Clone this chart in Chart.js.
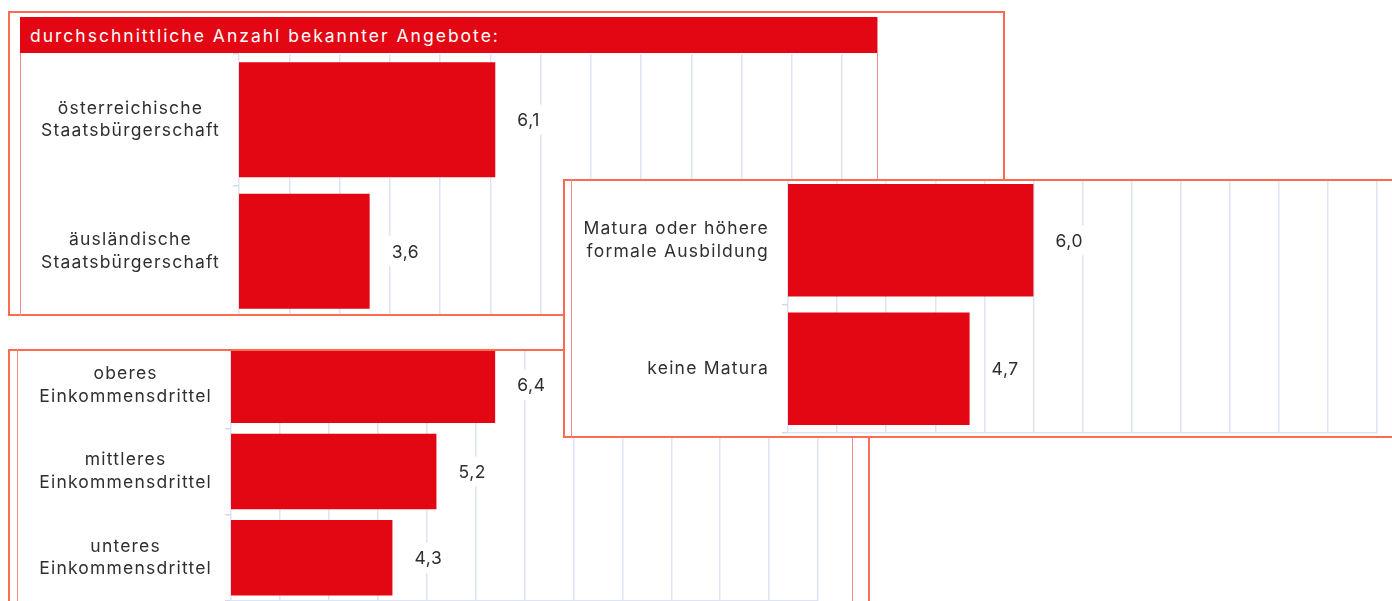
<!DOCTYPE html>
<html>
<head>
<meta charset="utf-8">
<script src="https://cdn.jsdelivr.net/npm/chart.js@4.4.1/dist/chart.umd.min.js"></script>
<style>
    body {
        margin: 0;
        width: 1392px;
        height: 601px;
        overflow: hidden;
        position: relative;
        background: #fff;
        font-family: Inter, "Noto Sans", sans-serif;
    }
    .box {
        position: absolute;
        box-sizing: border-box;
        background: #fff;
        border: 2px solid #ff6b4d;
    }
    .line {
        position: absolute;
        box-sizing: border-box;
        pointer-events: none;
        border: 1.5px solid #f28a8d;
    }
    .clip {
        position: absolute;
        overflow: hidden;
    }
    .clip canvas {
        position: absolute;
        left: 0;
    }
    .title {
        position: absolute;
        left: 20px;
        top: 17px;
        width: 857px;
        height: 36px;
        box-sizing: border-box;
        padding-left: 10px;
        background: #e30613;
        color: #fff;
        font-size: 17.5px;
        letter-spacing: 2px;
        line-height: 37px;
        white-space: nowrap;
    }
</style>
</head>
<body>

<!-- oben links: Staatsbürgerschaft -->
<div class="box" style="left:8px;top:11px;width:997px;height:305px;z-index:1"></div>
<div class="clip" style="left:20px;top:17px;width:857px;height:297px;z-index:2">
    <canvas id="citizenship-chart" width="857" height="300" style="top:0"></canvas>
</div>
<div class="line" style="left:20px;top:17px;width:858px;height:299px;z-index:3;border-bottom:none"></div>
<div class="title" style="z-index:3">durchschnittliche Anzahl bekannter Angebote:</div>

<!-- unten links: Einkommen -->
<div class="box" style="left:8px;top:349px;width:862px;height:270px;z-index:4"></div>
<div class="clip" style="left:17px;top:351px;width:835px;height:250px;z-index:5">
    <canvas id="income-chart" width="835" height="259" style="top:-9px"></canvas>
</div>
<div class="line" style="left:17px;top:349px;width:836px;height:270px;z-index:6;border-top:none;border-bottom:none"></div>

<!-- rechts: Bildung -->
<div class="box" style="left:563px;top:179px;width:860px;height:259px;z-index:7"></div>
<div class="clip" style="left:572px;top:181px;width:840px;height:255px;z-index:8">
    <canvas id="education-chart" width="840" height="259" style="top:-5px"></canvas>
</div>
<div class="line" style="left:571px;top:179px;width:2px;height:259px;z-index:9;border-width:0 0 0 1.5px"></div>

<script>
const citizenshipLabels = [['österreichische', 'Staatsbürgerschaft'], ['äusländische', 'Staatsbürgerschaft']];
const citizenshipValues = [6.1, 3.6];

const educationLabels = [['Matura oder höhere', 'formale Ausbildung'], 'keine Matura'];
const educationValues = [6.0, 4.7];

const incomeLabels = [['oberes', 'Einkommensdrittel'], ['mittleres', 'Einkommensdrittel'], ['unteres', 'Einkommensdrittel']];
const incomeValues = [6.4, 5.2, 4.3];

const axisMin = 1;
const axisMax = 13;
const axisStep = 1;

const barColor = '#e30613';
const textColor = '#2f2f2f';
const gridColor = '#e0e3f3';
const fontFamily = 'Inter, "Noto Sans", sans-serif';
const letterSpacing = '1.2px';

const formatValue = function (value) {
    return value.toFixed(1).replace('.', ',');
}

// breitere Schrift, damit die Beschriftung so breit wie im Original wird
const wideText = {
    id: 'wideText',
    beforeUpdate(chart) {
        chart.ctx.letterSpacing = letterSpacing;
    },
    beforeDraw(chart) {
        chart.ctx.letterSpacing = letterSpacing;
    }
};

// Wert rechts neben dem Balken, mit weissem Hintergrund über den Gitterlinien
const valueLabels = {
    id: 'valueLabels',
    afterDatasetsDraw(chart) {
        const ctx = chart.ctx;
        const values = chart.data.datasets[0].data;
        ctx.save();
        ctx.font = `17.5px ${fontFamily}`;
        ctx.letterSpacing = '0.6px';
        ctx.textAlign = 'left';
        ctx.textBaseline = 'middle';
        chart.getDatasetMeta(0).data.forEach((bar, i) => {
            const text = formatValue(values[i]);
            const x = bar.x + 22;
            const w = ctx.measureText(text).width;
            ctx.fillStyle = '#fff';
            ctx.fillRect(x - 4, bar.y - 15, w + 8, 30);
            ctx.fillStyle = textColor;
            ctx.fillText(text, x, bar.y + 1);
        });
        ctx.restore();
    }
};

const initBarChart = function (el, labels, values, axisWidth, crossAlign, padding) {
    return new Chart(document.querySelector(el), {
        type: 'bar',
        data: {
            labels: labels,
            datasets: [{
                data: values,
                backgroundColor: barColor,
                borderWidth: 0,
                barPercentage: 0.875,
                categoryPercentage: 1,
            }]
        },
        options: {
            indexAxis: 'y',
            responsive: false,
            animation: false,
            layout: { padding: padding },
            plugins: {
                legend: { display: false },
                tooltip: { enabled: false },
            },
            scales: {
                x: {
                    min: axisMin,
                    max: axisMax,
                    ticks: { display: false, stepSize: axisStep },
                    grid: { color: gridColor, lineWidth: 1.5, drawTicks: false },
                    border: { color: gridColor, width: 1.5 },
                    afterFit: (scale) => {
                        scale.height = 0;
                        scale.paddingLeft = 0;
                        scale.paddingRight = 0;
                    },
                },
                y: {
                    ticks: {
                        color: textColor,
                        font: { family: fontFamily, size: 17.5, lineHeight: 1.3 },
                        padding: 13,
                        crossAlign: crossAlign,
                    },
                    grid: { drawOnChartArea: false, drawTicks: true, tickLength: 6, color: '#d6d9e8', lineWidth: 1.5 },
                    border: { display: false },
                    afterFit: (scale) => {
                        scale.width = axisWidth;
                        scale.paddingTop = 0;
                        scale.paddingBottom = 0;
                    },
                }
            }
        },
        plugins: [wideText, valueLabels],
    });
}

initBarChart('#citizenship-chart', citizenshipLabels, citizenshipValues, 219, 'center', { top: 37, right: 35 });
initBarChart('#income-chart', incomeLabels, incomeValues, 214, 'center', { right: 34 });
initBarChart('#education-chart', educationLabels, educationValues, 216, 'near', { right: 35, bottom: 2 });
</script>
</body>
</html>
